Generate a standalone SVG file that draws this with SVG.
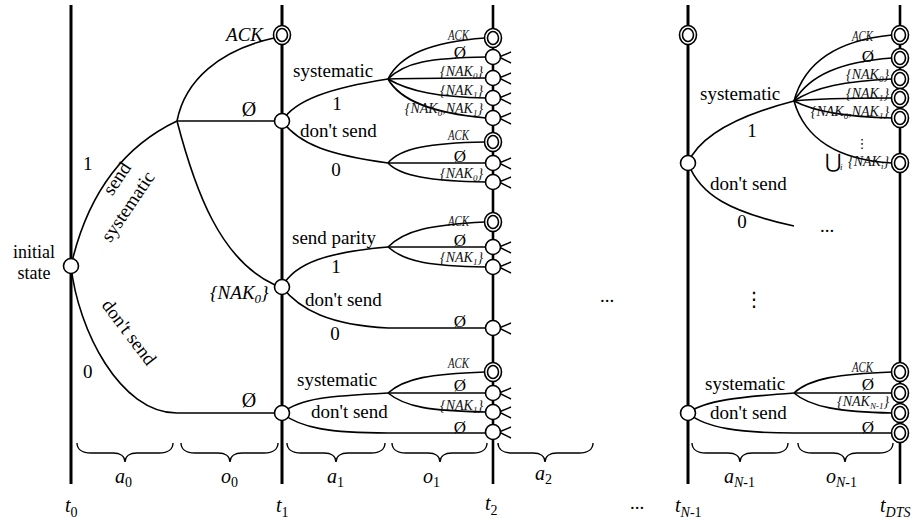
<svg xmlns="http://www.w3.org/2000/svg" xmlns:xlink="http://www.w3.org/1999/xlink" width="916" height="527" viewBox="0 0 916 527" font-family="Liberation Serif, Times New Roman, Times, DejaVu Serif, serif">
<style>
.axis{stroke:#000;stroke-width:3;fill:none}
.ln{stroke:#000;stroke-width:1.6;fill:none}
.stub{stroke:#000;stroke-width:1.4;fill:none}
.nd{fill:#fff;stroke:#000;stroke-width:1.6}
.t{font-family:"Liberation Serif","Times New Roman",Times,"DejaVu Serif",serif;font-size:19px;fill:#000}
.it{font-style:italic}
.lab{font-family:"Liberation Serif","Times New Roman",Times,serif;font-size:20px;fill:#000}
.sm{font-family:"Liberation Serif","Times New Roman",Times,serif;font-size:14px;font-style:italic;fill:#111}
.sub{font-size:9px}
.emp{font-family:"Liberation Serif","Times New Roman",Times,serif;font-size:17px;text-anchor:middle;fill:#000}
.mid{text-anchor:middle}
.end{text-anchor:end}
.dv{font-family:"DejaVu Sans",sans-serif}
</style>
<defs>
<g id="dbl"><ellipse class="nd" rx="8.5" ry="9.5"/><ellipse class="nd" rx="5.5" ry="6.5"/></g>
<circle id="cir" class="nd" r="7.5"/>
</defs>
<rect width="916" height="527" fill="#fff"/>

<g id="axes">
<line class="axis" x1="71" y1="5" x2="71" y2="484"/>
<line class="axis" x1="282" y1="5" x2="282" y2="484"/>
<line class="axis" x1="493" y1="5" x2="493" y2="484" style="stroke-width:2.6"/>
<line class="axis" x1="688" y1="5" x2="688" y2="484"/>
<line class="axis" x1="900" y1="5" x2="900" y2="484" style="stroke-width:2.6"/>
</g>

<g id="connectors">
<path class="ln" d="M71,266 Q95,160 177,121"/>
<path class="ln" d="M71,266 C78,330 120,413 177,413 L275,413"/>
<path class="ln" d="M177,121 C185,80 220,50 274,38"/>
<path class="ln" d="M177,121 L275,121"/>
<path class="ln" d="M177,121 C195,190 220,260 275,285"/>
<path class="ln" d="M282,121 C295,100 330,88 388,79"/>
<path class="ln" d="M282,121 C300,145 330,155 388,163"/>
<path class="ln" d="M388,79 C400,55 430,42 485,38"/>
<path class="ln" d="M388,79 C405,62 430,58 486,57"/>
<path class="ln" d="M388,79 C420,78 450,78 486,78"/>
<path class="ln" d="M388,79 C410,92 440,97 486,98"/>
<path class="ln" d="M388,79 C400,100 430,113 486,118"/>
<path class="ln" d="M388,163 C400,148 430,143 485,142"/>
<path class="ln" d="M388,163 L486,163"/>
<path class="ln" d="M388,163 C400,176 430,181 486,182"/>
<path class="ln" d="M282,287 C295,262 330,252 388,247"/>
<path class="ln" d="M282,287 C300,310 330,325 388,328 L486,328"/>
<path class="ln" d="M388,247 C405,230 430,225 485,222"/>
<path class="ln" d="M388,247 L486,247"/>
<path class="ln" d="M388,247 C405,262 430,266 486,267"/>
<path class="ln" d="M282,413 C300,398 330,396 388,393"/>
<path class="ln" d="M282,413 C300,428 330,433 388,433 L486,433"/>
<path class="ln" d="M388,393 C405,378 430,374 485,372"/>
<path class="ln" d="M388,393 L486,393"/>
<path class="ln" d="M388,393 C405,407 430,411 486,412"/>
<path class="stub" d="M499,57 L511,52 M499,57 L511,63 M499,78 L511,73 M499,78 L511,84 M499,98 L511,93 M499,98 L511,104 M499,118 L511,113 M499,118 L511,124 M499,163 L511,158 M499,163 L511,169 M499,182 L511,177 M499,182 L511,188 M499,247 L511,242 M499,247 L511,253 M499,267 L511,262 M499,267 L511,273 M499,328 L511,323 M499,328 L511,334 M499,393 L511,388 M499,393 L511,399 M499,412 L511,407 M499,412 L511,418 M499,432 L511,427 M499,432 L511,438"/>
<path class="ln" d="M688,163 C700,135 740,115 794,101"/>
<path class="ln" d="M688,163 C700,195 730,212 794,226"/>
<path class="ln" d="M794,101 C805,60 840,40 892,35"/>
<path class="ln" d="M794,101 C810,75 840,62 892,58"/>
<path class="ln" d="M794,101 C815,87 845,81 892,79"/>
<path class="ln" d="M794,101 C820,98 850,98 892,98"/>
<path class="ln" d="M794,101 C815,112 845,117 892,118"/>
<path class="ln" d="M794,101 C805,140 840,160 892,163"/>
<path class="ln" d="M688,413 C705,400 740,397 794,393"/>
<path class="ln" d="M688,413 C705,428 740,433 794,433 L892,433"/>
<path class="ln" d="M794,393 C810,378 840,374 892,372"/>
<path class="ln" d="M794,393 L892,393"/>
<path class="ln" d="M794,393 C810,407 840,412 892,413"/>
</g>

<g id="braces" class="ln" style="stroke-width:1.4">
<path d="M77,443 C77,449 82,453 91,453 L113,453 C120,453 125,456 125,462 C125,456 130,453 137,453 L159,453 C168,453 173,449 173,443"/>
<path d="M181,443 C181,449 186,453 195,453 L218,453 C225,453 230,456 230,462 C230,456 235,453 242,453 L264,453 C273,453 278,449 278,443"/>
<path d="M287,443 C287,449 292,453 301,453 L324,453 C331,453 336,456 336,462 C336,456 341,453 348,453 L371,453 C380,453 385,449 385,443"/>
<path d="M392,443 C392,449 397,453 406,453 L428,453 C435,453 440,456 440,462 C440,456 445,453 452,453 L473,453 C482,453 487,449 487,443"/>
<path d="M498,443 C498,449 503,453 512,453 L533,453 C540,453 545,456 545,462 C545,456 550,453 557,453 L579,453 C588,453 593,449 593,443"/>
<path d="M692,443 C692,449 697,453 706,453 L728,453 C735,453 740,456 740,462 C740,456 745,453 752,453 L774,453 C783,453 788,449 788,443"/>
<path d="M798,443 C798,449 803,453 812,453 L833,453 C840,453 845,456 845,462 C845,456 850,453 857,453 L879,453 C888,453 893,449 893,443"/>
</g>

<g id="node-init"><use xlink:href="#cir" x="71" y="266"/></g>
<g id="node-t1-ack"><use xlink:href="#dbl" x="282" y="35"/></g>
<g id="node-t1-empty"><use xlink:href="#cir" x="282" y="121"/></g>
<g id="node-t1-nak0"><use xlink:href="#cir" x="282" y="287"/></g>
<g id="node-t1-bottom"><use xlink:href="#cir" x="282" y="413"/></g>

<g id="node-t2-a-ack"><use xlink:href="#dbl" x="493" y="38"/></g>
<g id="node-t2-a-empty"><use xlink:href="#cir" x="493" y="57"/></g>
<g id="node-t2-a-nak0"><use xlink:href="#cir" x="493" y="78"/></g>
<g id="node-t2-a-nak1"><use xlink:href="#cir" x="493" y="98"/></g>
<g id="node-t2-a-nak01"><use xlink:href="#cir" x="493" y="118"/></g>
<g id="node-t2-b-ack"><use xlink:href="#dbl" x="493" y="142"/></g>
<g id="node-t2-b-empty"><use xlink:href="#cir" x="493" y="163"/></g>
<g id="node-t2-b-nak0"><use xlink:href="#cir" x="493" y="182"/></g>
<g id="node-t2-c-ack"><use xlink:href="#dbl" x="493" y="222"/></g>
<g id="node-t2-c-empty"><use xlink:href="#cir" x="493" y="247"/></g>
<g id="node-t2-c-nak1"><use xlink:href="#cir" x="493" y="267"/></g>
<g id="node-t2-c-empty2"><use xlink:href="#cir" x="493" y="328"/></g>
<g id="node-t2-d-ack"><use xlink:href="#dbl" x="493" y="372"/></g>
<g id="node-t2-d-empty"><use xlink:href="#cir" x="493" y="393"/></g>
<g id="node-t2-d-nak1"><use xlink:href="#cir" x="493" y="412"/></g>
<g id="node-t2-d-empty2"><use xlink:href="#cir" x="493" y="432"/></g>

<g id="node-tn1-ack"><use xlink:href="#dbl" x="688" y="35"/></g>
<g id="node-tn1-a"><use xlink:href="#cir" x="688" y="163"/></g>
<g id="node-tn1-b"><use xlink:href="#cir" x="688" y="413"/></g>

<g id="node-dts-1"><use xlink:href="#dbl" x="900" y="35"/></g>
<g id="node-dts-2"><use xlink:href="#dbl" x="900" y="58"/></g>
<g id="node-dts-3"><use xlink:href="#dbl" x="900" y="79"/></g>
<g id="node-dts-4"><use xlink:href="#dbl" x="900" y="98"/></g>
<g id="node-dts-5"><use xlink:href="#dbl" x="900" y="118"/></g>
<g id="node-dts-6"><use xlink:href="#dbl" x="900" y="163"/></g>
<g id="node-dts-7"><use xlink:href="#dbl" x="900" y="372"/></g>
<g id="node-dts-8"><use xlink:href="#dbl" x="900" y="393"/></g>
<g id="node-dts-9"><use xlink:href="#dbl" x="900" y="413"/></g>
<g id="node-dts-10"><use xlink:href="#dbl" x="900" y="433"/></g>

<g id="labels">
<text class="t mid" x="34" y="258" style="font-size:18px">initial</text>
<text class="t mid" x="34" y="279" style="font-size:18px">state</text>
<text class="t" x="83" y="170">1</text>
<text class="t" x="83" y="378">0</text>
<text class="t mid" transform="translate(122,182) rotate(-56)">send</text>
<text class="t mid" transform="translate(133,210) rotate(-56)">systematic</text>
<text class="t mid" transform="translate(124,336) rotate(53)">don't send</text>
<text class="t it end" x="263" y="41">ACK</text>
<text class="t mid" x="249" y="116" style="font-size:20px">Ø</text>
<text class="t mid" x="249" y="407" style="font-size:20px">Ø</text>
<text class="t it" x="210" y="299">{NAK<tspan dy="4" font-size="13">0</tspan><tspan dy="-4">}</tspan></text>

<text class="t" x="293" y="77">systematic</text>
<text class="t mid" x="337" y="110">1</text>
<text class="t" x="300" y="137">don't send</text>
<text class="t mid" x="336" y="176">0</text>
<text class="t" x="292" y="244">send parity</text>
<text class="t mid" x="336" y="273">1</text>
<text class="t" x="305" y="306">don't send</text>
<text class="t mid" x="335" y="340">0</text>
<text class="t" x="297" y="386">systematic</text>
<text class="t" x="311" y="418">don't send</text>

<text class="sm" x="448" y="40" textLength="21" lengthAdjust="spacingAndGlyphs">ACK</text>
<text class="emp" x="460" y="58">Ø</text>
<text class="sm end" x="483" y="76">{NAK<tspan class="sub" dy="3">0</tspan><tspan dy="-3">}</tspan></text>
<text class="sm end" x="483" y="95">{NAK<tspan class="sub" dy="3">1</tspan><tspan dy="-3">}</tspan></text>
<text class="sm end" x="483" y="113">{NAK<tspan class="sub" dy="3">0</tspan><tspan dy="-3">,NAK</tspan><tspan class="sub" dy="3">1</tspan><tspan dy="-3">}</tspan></text>
<text class="sm" x="448" y="140" textLength="21" lengthAdjust="spacingAndGlyphs">ACK</text>
<text class="emp" x="460" y="162">Ø</text>
<text class="sm end" x="483" y="178">{NAK<tspan class="sub" dy="3">0</tspan><tspan dy="-3">}</tspan></text>
<text class="sm" x="448" y="226" textLength="21" lengthAdjust="spacingAndGlyphs">ACK</text>
<text class="emp" x="460" y="246">Ø</text>
<text class="sm end" x="483" y="262">{NAK<tspan class="sub" dy="3">1</tspan><tspan dy="-3">}</tspan></text>
<text class="emp" x="460" y="327">Ø</text>
<text class="sm" x="448" y="368" textLength="21" lengthAdjust="spacingAndGlyphs">ACK</text>
<text class="emp" x="460" y="391">Ø</text>
<text class="sm end" x="483" y="410">{NAK<tspan class="sub" dy="3">1</tspan><tspan dy="-3">}</tspan></text>
<text class="emp" x="460" y="433">Ø</text>

<text class="t" x="700" y="100">systematic</text>
<text class="t mid" x="752" y="137">1</text>
<text class="t" x="710" y="190">don't send</text>
<text class="t mid" x="742" y="228">0</text>
<text class="t" x="705" y="390">systematic</text>
<text class="t" x="710" y="419">don't send</text>

<text class="sm" x="852" y="41" textLength="21" lengthAdjust="spacingAndGlyphs">ACK</text>
<text class="emp" x="868" y="62">Ø</text>
<text class="sm end" x="889" y="79">{NAK<tspan class="sub" dy="3">0</tspan><tspan dy="-3">}</tspan></text>
<text class="sm end" x="889" y="98">{NAK<tspan class="sub" dy="3">1</tspan><tspan dy="-3">}</tspan></text>
<text class="sm end" x="889" y="116">{NAK<tspan class="sub" dy="3">0</tspan><tspan dy="-3">,NAK</tspan><tspan class="sub" dy="3">1</tspan><tspan dy="-3">}</tspan></text>
<text class="t mid dv" x="862" y="148" style="font-size:13px">⋮</text>
<text class="t dv" x="825" y="168" style="font-size:20px">⋃</text>
<text class="sm" x="840" y="170" style="font-size:9px">i</text>
<text class="sm end" x="889" y="166">{NAK<tspan class="sub" dy="3">i</tspan><tspan dy="-3">}</tspan></text>
<text class="sm" x="852" y="372" textLength="21" lengthAdjust="spacingAndGlyphs">ACK</text>
<text class="emp" x="868" y="390">Ø</text>
<text class="sm end" x="889" y="406">{NAK<tspan class="sub" dy="3">N-1</tspan><tspan dy="-3">}</tspan></text>
<text class="emp" x="868" y="433">Ø</text>

<text class="t" x="600" y="302">...</text>
<text class="t" x="820" y="232">...</text>
<text class="t mid dv" x="754" y="306" style="font-size:20px">⋮</text>
<text class="t" x="630" y="509">...</text>

<text class="lab it" x="115" y="483">a<tspan dy="4" font-size="14" font-style="normal">0</tspan></text>
<text class="lab it" x="221" y="483">o<tspan dy="4" font-size="14" font-style="normal">0</tspan></text>
<text class="lab it" x="327" y="483">a<tspan dy="4" font-size="14" font-style="normal">1</tspan></text>
<text class="lab it" x="423" y="483">o<tspan dy="4" font-size="14" font-style="normal">1</tspan></text>
<text class="lab it" x="535" y="480">a<tspan dy="4" font-size="14" font-style="normal">2</tspan></text>
<text class="lab it" x="724" y="483">a<tspan dy="4" font-size="14">N</tspan><tspan font-size="14" font-style="normal">-1</tspan></text>
<text class="lab it" x="826" y="483">o<tspan dy="4" font-size="14">N</tspan><tspan font-size="14" font-style="normal">-1</tspan></text>
<text class="lab it" x="65" y="512">t<tspan dy="5" font-size="14" font-style="normal">0</tspan></text>
<text class="lab it" x="276" y="512">t<tspan dy="5" font-size="14" font-style="normal">1</tspan></text>
<text class="lab it" x="485" y="510">t<tspan dy="5" font-size="14" font-style="normal">2</tspan></text>
<text class="lab it" x="675" y="512">t<tspan dy="5" font-size="14">N</tspan><tspan font-size="14" font-style="normal">-1</tspan></text>
<text class="lab it" x="880" y="512">t<tspan dy="5" font-size="14">DTS</tspan></text>
</g>
</svg>
